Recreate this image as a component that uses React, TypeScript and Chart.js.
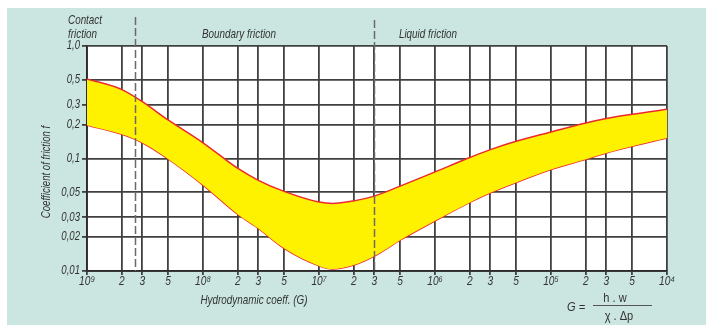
import React, { useEffect, useRef } from "react";
import { Chart, registerables } from "chart.js";

Chart.register(...registerables);

// Hydrodynamic coefficient G (x) and friction coefficient band (y)
const gValues = [1e-9, 2e-9, 3e-9, 5e-9, 1e-8, 2e-8, 3e-8, 5e-8, 1e-7, 1.3e-7, 2e-7, 3e-7, 5e-7, 1e-6, 2e-6, 3e-6, 5e-6, 1e-5, 2e-5, 3e-5, 5e-5, 1e-4];
const fUpper = [0.51, 0.41, 0.32, 0.22, 0.138, 0.0815, 0.064, 0.051, 0.041, 0.0398, 0.042, 0.0463, 0.0568, 0.076, 0.102, 0.12, 0.1425, 0.172, 0.207, 0.2265, 0.247, 0.274];
const fLower = [0.198, 0.164, 0.138, 0.099, 0.058, 0.0318, 0.0239, 0.0159, 0.0111, 0.0104, 0.01128, 0.01356, 0.0188, 0.0279, 0.0407, 0.0495, 0.0612, 0.0798, 0.0986, 0.112, 0.1285, 0.1524];

const xTickValues = [1e-9, 2e-9, 3e-9, 5e-9, 1e-8, 2e-8, 3e-8, 5e-8, 1e-7, 2e-7, 3e-7, 5e-7, 1e-6, 2e-6, 3e-6, 5e-6, 1e-5, 2e-5, 3e-5, 5e-5, 1e-4];
const xTickLabels = ["10⁹", "2", "3", "5", "10⁸", "2", "3", "5", "10⁷", "2", "3", "5", "10⁶", "2", "3", "5", "10⁵", "2", "3", "5", "10⁴"];
const yTickValues = [0.01, 0.02, 0.03, 0.05, 0.1, 0.2, 0.3, 0.5, 1];
const yTickLabels = ["0,01", "0,02", "0,03", "0,05", "0,1", "0,2", "0,3", "0,5", "1,0"];

const regimeBounds = [2.6e-9, 3e-7];

const FONT = "'Liberation Sans', Arial, sans-serif";
const TEXT = "#333333";
const TEAL = "#cbe6e0";
const YELLOW = "#fff200";
const RED = "#ec2a2e";
const GRID = "#404040";

function narrowText(ctx: CanvasRenderingContext2D, text: string, x: number, y: number, align: CanvasTextAlign, font: string, sx: number, rot = 0) {
  ctx.save();
  ctx.translate(x, y);
  if (rot) ctx.rotate(rot);
  ctx.scale(sx, 1);
  ctx.font = font;
  ctx.textAlign = align;
  ctx.textBaseline = "middle";
  ctx.fillText(text, 0, 0);
  ctx.restore();
}

export default function App() {
  const ref = useRef<HTMLCanvasElement>(null);

  useEffect(() => {
    const canvas = ref.current;
    if (!canvas) return;

    const decor = {
      id: "decor",
      beforeDraw(chart: any) {
        const { ctx, chartArea } = chart;
        ctx.save();
        ctx.fillStyle = "#ffffff";
        ctx.fillRect(chartArea.left, chartArea.top, chartArea.right - chartArea.left, chartArea.bottom - chartArea.top);
        ctx.restore();
      },
      afterDraw(chart: any) {
        const { ctx, chartArea } = chart;
        const xs = chart.scales.x;
        const ys = chart.scales.y;
        ctx.save();
        // regime dashed lines
        ctx.strokeStyle = "#6a6a6a";
        ctx.lineWidth = 1.5;
        ctx.setLineDash([8, 3]);
        const tops = [9, 12];
        regimeBounds.forEach((b, i) => {
          const px = Math.round(xs.getPixelForValue(b)) + 0.5;
          ctx.beginPath();
          ctx.moveTo(px, tops[i]);
          ctx.lineTo(px, chartArea.bottom);
          ctx.stroke();
        });
        ctx.setLineDash([]);

        ctx.fillStyle = TEXT;
        const it13 = `italic 13px ${FONT}`;
        const tick = `italic 12px ${FONT}`;

        // tick labels
        yTickValues.forEach((v, i) => {
          narrowText(ctx, yTickLabels[i], chartArea.left - 7, ys.getPixelForValue(v), "right", tick, 0.8);
        });
        xTickValues.forEach((v, i) => {
          narrowText(ctx, xTickLabels[i], xs.getPixelForValue(v), chartArea.bottom + 11, "center", tick, 0.85);
        });

        narrowText(ctx, "Contact", 61, 12, "left", it13, 0.76);
        narrowText(ctx, "friction", 61, 26, "left", it13, 0.76);
        narrowText(ctx, "Boundary friction", 232, 26, "center", it13, 0.76);
        narrowText(ctx, "Liquid friction", 421, 26, "center", it13, 0.76);
        narrowText(ctx, "Hydrodynamic coeff. (G)", 247, 292, "center", it13, 0.76);
        narrowText(ctx, "Coefficient of friction f", 40, 164, "center", `italic 12px ${FONT}`, 0.8, -Math.PI / 2);

        // formula
        narrowText(ctx, "G =", 560, 299, "left", `italic 13px ${FONT}`, 0.85);
        narrowText(ctx, "h . w", 608, 290, "center", `13px ${FONT}`, 0.85);
        narrowText(ctx, "χ . Δp", 612, 308, "center", `13px ${FONT}`, 0.85);
        ctx.strokeStyle = "#555";
        ctx.lineWidth = 1.2;
        ctx.beginPath();
        ctx.moveTo(586, 297.5);
        ctx.lineTo(645, 297.5);
        ctx.stroke();
        ctx.restore();
      },
    };

    const upperPts = gValues.map((g, i) => ({ x: g, y: fUpper[i] }));
    const lowerPts = gValues.map((g, i) => ({ x: g, y: fLower[i] }));
    const last = gValues.length - 1;

    const chart = new Chart(canvas, {
      type: "line",
      data: {
        datasets: [
          {
            data: upperPts,
            borderColor: RED,
            borderWidth: 1.5,
            backgroundColor: YELLOW,
            fill: "+1",
            pointRadius: 0,
            cubicInterpolationMode: "monotone",
          },
          {
            data: lowerPts,
            borderColor: RED,
            borderWidth: 1.5,
            fill: false,
            pointRadius: 0,
            cubicInterpolationMode: "monotone",
          },
          {
            data: [
              { x: gValues[0], y: fUpper[0] },
              { x: gValues[0], y: fLower[0] },
            ],
            borderColor: RED,
            borderWidth: 2,
            fill: false,
            pointRadius: 0,
          },
          {
            data: [
              { x: gValues[last], y: fUpper[last] },
              { x: gValues[last], y: fLower[last] },
            ],
            borderColor: RED,
            borderWidth: 2,
            fill: false,
            pointRadius: 0,
          },
        ],
      } as any,
      options: {
        responsive: false,
        animation: false,
        devicePixelRatio: 1,
        layout: { padding: { left: 0, right: 39, top: 38, bottom: 0 } },
        plugins: { legend: { display: false }, tooltip: { enabled: false } },
        scales: {
          x: {
            type: "logarithmic",
            min: 1e-9,
            max: 1e-4,
            z: 1,
            afterBuildTicks: (s: any) => {
              s.ticks = xTickValues.map((v) => ({ value: v }));
            },
            afterFit: (s: any) => {
              s.height = 54;
            },
            ticks: { display: false, autoSkip: false },
            grid: { color: GRID, lineWidth: 1.8, drawTicks: true, tickLength: 4 },
            border: { display: true, color: "#2a2a2a", width: 1.8 },
          },
          y: {
            type: "logarithmic",
            min: 0.01,
            max: 1,
            z: 1,
            afterBuildTicks: (s: any) => {
              s.ticks = yTickValues.map((v) => ({ value: v }));
            },
            afterFit: (s: any) => {
              s.width = 80;
            },
            ticks: { display: false, autoSkip: false },
            grid: { color: GRID, lineWidth: 1.8, drawTicks: true, tickLength: 5 },
            border: { display: true, color: "#2a2a2a", width: 1.8 },
          },
        },
      } as any,
      plugins: [decor],
    });

    return () => chart.destroy();
  }, []);

  return (
    <div
      style={{
        position: "fixed",
        left: 7,
        top: 8,
        width: 699,
        height: 317,
        background: TEAL,
      }}
    >
      <canvas ref={ref} width={699} height={317} style={{ display: "block", width: 699, height: 317 }} />
    </div>
  );
}
